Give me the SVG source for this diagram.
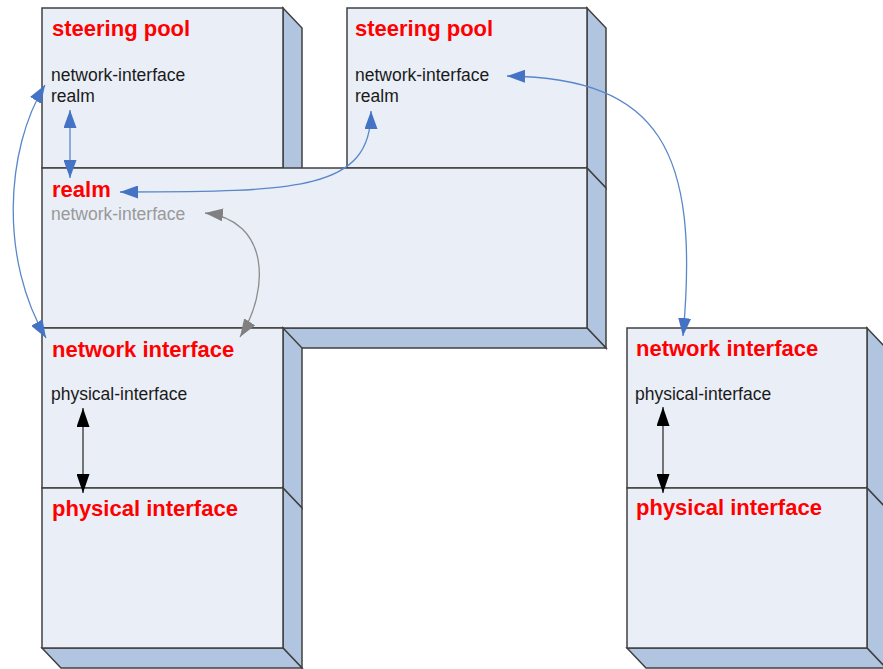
<svg xmlns="http://www.w3.org/2000/svg" width="883" height="669" viewBox="0 0 883 669">
<style>
.front{fill:#E9EEF7;stroke:#404040;stroke-width:1.5}
.side{fill:#B2C5E0;stroke:#404040;stroke-width:1.5;stroke-linejoin:miter}
.title{font-family:"Liberation Sans",Arial,sans-serif;font-weight:bold;font-size:22px;fill:#FF0000}
.attr{font-family:"Liberation Sans",Arial,sans-serif;font-size:17.5px;fill:#1a1a1a}
.attrg{font-family:"Liberation Sans",Arial,sans-serif;font-size:17.5px;fill:#999999}
.blue{fill:none;stroke:#5A87C9;stroke-width:1.3}
.gray{fill:none;stroke:#8C8C8C;stroke-width:1.3}
.black{fill:none;stroke:#555555;stroke-width:1.6}
</style>
<defs>
<marker id="ab" markerUnits="userSpaceOnUse" markerWidth="18" markerHeight="13" refX="18" refY="6.5" orient="auto-start-reverse" viewBox="0 0 18 13"><path d="M0 0 L18 6.5 L0 13 z" fill="#4472C4"/></marker>
<marker id="ag" markerUnits="userSpaceOnUse" markerWidth="18" markerHeight="13" refX="18" refY="6.5" orient="auto-start-reverse" viewBox="0 0 18 13"><path d="M0 0 L18 6.5 L0 13 z" fill="#808080"/></marker>
<marker id="ak" markerUnits="userSpaceOnUse" markerWidth="19" markerHeight="13" refX="19" refY="6.5" orient="auto-start-reverse" viewBox="0 0 19 13"><path d="M0 0 L19 6.5 L0 13 z" fill="#000000"/></marker>
</defs>

<g id="steering-pool-1">
<polygon class="side" points="283,8 302,28 302,188 283,168"/>
<rect class="front" x="42" y="8" width="241" height="160"/>
<text class="title" x="52" y="36">steering pool</text>
<text class="attr" x="51" y="81">network-interface</text>
<text class="attr" x="51" y="102">realm</text>
</g>

<g id="steering-pool-2">
<polygon class="side" points="587,8 606,28 606,188 587,168"/>
<rect class="front" x="347" y="8" width="240" height="160"/>
<text class="title" x="355" y="36">steering pool</text>
<text class="attr" x="355" y="81">network-interface</text>
<text class="attr" x="355" y="102">realm</text>
</g>

<g id="realm">
<polygon class="side" points="587,168 606,188 606,348 587,328"/>
<polygon class="side" points="42,328 587,328 606,348 61,348"/>
<rect class="front" x="42" y="168" width="545" height="160"/>
<text class="title" x="52" y="197">realm</text>
<text class="attrg" x="51" y="220">network-interface</text>
</g>

<g id="network-interface-1">
<polygon class="side" points="283,328 302,348 302,508 283,488"/>
<rect class="front" x="42" y="328" width="241" height="160"/>
<text class="title" x="52" y="357">network interface</text>
<text class="attr" x="51" y="400">physical-interface</text>
</g>

<g id="physical-interface-1">
<polygon class="side" points="283,488 302,508 302,668 283,648"/>
<polygon class="side" points="42,648 283,648 302,668 61,668"/>
<rect class="front" x="42" y="488" width="241" height="160"/>
<text class="title" x="52" y="516">physical interface</text>
</g>

<g id="network-interface-2">
<polygon class="side" points="867,328 886,348 886,508 867,488"/>
<rect class="front" x="627" y="328" width="240" height="160"/>
<text class="title" x="636" y="356">network interface</text>
<text class="attr" x="635" y="400">physical-interface</text>
</g>

<g id="physical-interface-2">
<polygon class="side" points="867,488 886,508 886,668 867,648"/>
<polygon class="side" points="627,648 867,648 886,668 646,668"/>
<rect class="front" x="627" y="488" width="240" height="160"/>
<text class="title" x="636" y="515">physical interface</text>
</g>

<g id="connectors">
<path class="blue" d="M70 110 L70 178" marker-start="url(#ab)" marker-end="url(#ab)"/>
<path class="blue" d="M371 111 C371 190 300 192 120 192" marker-start="url(#ab)" marker-end="url(#ab)"/>
<path class="blue" d="M507 76 C660 78 700 150 683 336" marker-start="url(#ab)" marker-end="url(#ab)"/>
<path class="blue" d="M45 85 C5 150 0 260 46 338" marker-start="url(#ab)" marker-end="url(#ab)"/>
<path class="gray" d="M205 213 C270 220 270 290 240 337" marker-start="url(#ag)" marker-end="url(#ag)"/>
<path class="black" d="M83 408 L83 493" marker-start="url(#ak)" marker-end="url(#ak)"/>
<path class="black" d="M663 407 L663 493" marker-start="url(#ak)" marker-end="url(#ak)"/>
</g>
</svg>
